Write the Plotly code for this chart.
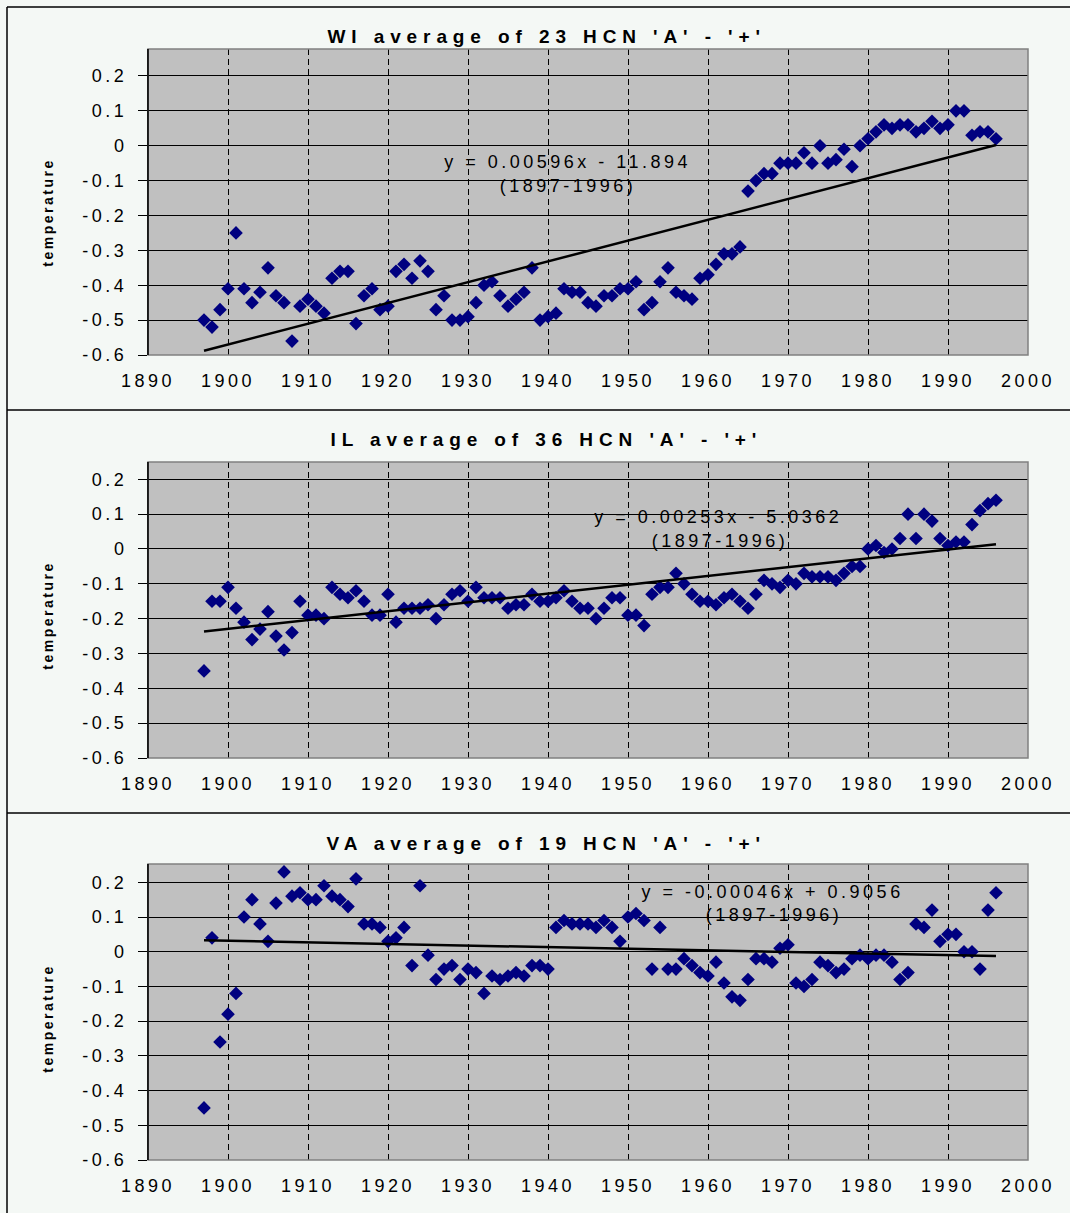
import json
import plotly.graph_objects as go

# ---- data -----------------------------------------------------------------
years = list(range(1897, 1997))

wi_temp = [-0.50, -0.52, -0.47, -0.41, -0.25, -0.41, -0.45, -0.42, -0.35, -0.43,
           -0.45, -0.56, -0.46, -0.44, -0.46, -0.48, -0.38, -0.36, -0.36, -0.51,
           -0.43, -0.41, -0.47, -0.46, -0.36, -0.34, -0.38, -0.33, -0.36, -0.47,
           -0.43, -0.50, -0.50, -0.49, -0.45, -0.40, -0.39, -0.43, -0.46, -0.44,
           -0.42, -0.35, -0.50, -0.49, -0.48, -0.41, -0.42, -0.42, -0.45, -0.46,
           -0.43, -0.43, -0.41, -0.41, -0.39, -0.47, -0.45, -0.39, -0.35, -0.42,
           -0.43, -0.44, -0.38, -0.37, -0.34, -0.31, -0.31, -0.29, -0.13, -0.10,
           -0.08, -0.08, -0.05, -0.05, -0.05, -0.02, -0.05, 0.00, -0.05, -0.04,
           -0.01, -0.06, 0.00, 0.02, 0.04, 0.06, 0.05, 0.06, 0.06, 0.04,
           0.05, 0.07, 0.05, 0.06, 0.10, 0.10, 0.03, 0.04, 0.04, 0.02]

il_temp = [-0.35, -0.15, -0.15, -0.11, -0.17, -0.21, -0.26, -0.23, -0.18, -0.25,
           -0.29, -0.24, -0.15, -0.19, -0.19, -0.20, -0.11, -0.13, -0.14, -0.12,
           -0.15, -0.19, -0.19, -0.13, -0.21, -0.17, -0.17, -0.17, -0.16, -0.20,
           -0.16, -0.13, -0.12, -0.15, -0.11, -0.14, -0.14, -0.14, -0.17, -0.16,
           -0.16, -0.13, -0.15, -0.15, -0.14, -0.12, -0.15, -0.17, -0.17, -0.20,
           -0.17, -0.14, -0.14, -0.19, -0.19, -0.22, -0.13, -0.11, -0.11, -0.07,
           -0.10, -0.13, -0.15, -0.15, -0.16, -0.14, -0.13, -0.15, -0.17, -0.13,
           -0.09, -0.10, -0.11, -0.09, -0.10, -0.07, -0.08, -0.08, -0.08, -0.09,
           -0.07, -0.05, -0.05, 0.00, 0.01, -0.01, 0.00, 0.03, 0.10, 0.03,
           0.10, 0.08, 0.03, 0.01, 0.02, 0.02, 0.07, 0.11, 0.13, 0.14]

va_temp = [-0.45, 0.04, -0.26, -0.18, -0.12, 0.10, 0.15, 0.08, 0.03, 0.14,
           0.23, 0.16, 0.17, 0.15, 0.15, 0.19, 0.16, 0.15, 0.13, 0.21,
           0.08, 0.08, 0.07, 0.03, 0.04, 0.07, -0.04, 0.19, -0.01, -0.08,
           -0.05, -0.04, -0.08, -0.05, -0.06, -0.12, -0.07, -0.08, -0.07, -0.06,
           -0.07, -0.04, -0.04, -0.05, 0.07, 0.09, 0.08, 0.08, 0.08, 0.07,
           0.09, 0.07, 0.03, 0.10, 0.11, 0.09, -0.05, 0.07, -0.05, -0.05,
           -0.02, -0.04, -0.06, -0.07, -0.03, -0.09, -0.13, -0.14, -0.08, -0.02,
           -0.02, -0.03, 0.01, 0.02, -0.09, -0.10, -0.08, -0.03, -0.04, -0.06,
           -0.05, -0.02, -0.01, -0.02, -0.01, -0.01, -0.03, -0.08, -0.06, 0.08,
           0.07, 0.12, 0.03, 0.05, 0.05, 0.00, 0.00, -0.05, 0.12, 0.17]

titles = ["WI average of 23 HCN 'A' - '+'",
          "IL average of 36 HCN 'A' - '+'",
          "VA average of 19 HCN 'A' - '+'"]

# least-squares trend lines (slope, intercept) as printed on each chart
trend_slopes = [0.00596, 0.00253, -0.00046]
trend_intercepts = [-11.894, -5.0362, 0.9056]
trend_labels = ["y = 0.00596x - 11.894",
                "y = 0.00253x - 5.0362",
                "y = -0.00046x + 0.9056"]
trend_period = "(1897-1996)"

x_ticks = list(range(1890, 2001, 10))
y_ticks = [-0.6, -0.5, -0.4, -0.3, -0.2, -0.1, 0.0, 0.1, 0.2]
y_tick_text = ["-0.6", "-0.5", "-0.4", "-0.3", "-0.2", "-0.1", "0", "0.1", "0.2"]

series = [wi_temp, il_temp, va_temp]

# ---- layout geometry (pixels) --------------------------------------------
W, H = 1070, 1213
FONT = "Liberation Sans, Arial, sans-serif"
PLOT_BG = "#C0C0C0"
PAGE_BG = "#F4F8F5"
MARKER = "#000080"

plot_left, plot_right = 148, 1028
# (top, bottom, top-of-range value) of every plot area
plot_boxes = [(49, 355, 0.2774), (462, 758, 0.2497), (864, 1160, 0.2527)]
title_y = [37, 440, 843]
ylabel_y = [212, 615, 1018]
eq_pos = [((567, 162), (568, 186)),
          ((718, 517), (720, 541)),
          ((772, 892), (774, 915))]
frame_x = 7
frame_lines_y = [7, 410, 813]


def px(x):
    return x / W


def py(y):
    return 1 - y / H


fig = go.Figure()
annotations = []
ann_spacing = []
shapes = []

for i, (vals, (top, bottom, ymax)) in enumerate(zip(series, plot_boxes)):
    n = "" if i == 0 else str(i + 1)
    xa, ya = "x" + n, "y" + n

    fig.add_trace(go.Scatter(
        x=years, y=vals, mode="markers", xaxis=xa, yaxis=ya,
        marker=dict(symbol="diamond", size=10.5, color=MARKER, line=dict(width=0)),
        showlegend=False, hoverinfo="x+y"))

    x0, x1 = years[0], years[-1]
    fig.add_trace(go.Scatter(
        x=[x0, x1],
        y=[trend_slopes[i] * x0 + trend_intercepts[i],
           trend_slopes[i] * x1 + trend_intercepts[i]],
        mode="lines", xaxis=xa, yaxis=ya,
        line=dict(color="black", width=2.5),
        showlegend=False, hoverinfo="skip"))

    fig.update_layout({
        "xaxis" + n: dict(
            domain=[px(plot_left), px(plot_right)], anchor=ya, automargin=False,
            range=[1890, 2000], tickvals=x_ticks, ticks="",
            showgrid=True, gridcolor="black", gridwidth=1, griddash="6px,4px",
            zeroline=False, showline=False,
            tickfont=dict(family=FONT, size=18, color="black"),
            ticklabelstandoff=13, fixedrange=True),
        "yaxis" + n: dict(
            domain=[py(bottom), py(top)], anchor=xa, automargin=False,
            range=[-0.6, ymax], tickvals=y_ticks, ticktext=y_tick_text,
            ticks="outside", ticklen=9, tickcolor="black", tickwidth=1,
            showgrid=True, gridcolor="black", gridwidth=1,
            zeroline=False, showline=True, linecolor="black", linewidth=1,
            tickfont=dict(family=FONT, size=18, color="black"),
            ticklabelstandoff=7, fixedrange=True),
    })

    # grey plot area with its grey frame
    shapes.append(dict(type="rect", xref="paper", yref="paper", layer="below",
                       x0=px(plot_left), x1=px(plot_right), y0=py(bottom), y1=py(top),
                       fillcolor=PLOT_BG, line=dict(width=0)))
    shapes.append(dict(type="rect", xref="paper", yref="paper", layer="above",
                       x0=px(plot_left), x1=px(plot_right), y0=py(bottom), y1=py(top),
                       fillcolor="rgba(0,0,0,0)", line=dict(color="#808080", width=1.5)))
    shapes.append(dict(type="line", xref="paper", yref="paper", layer="above",
                       x0=px(plot_left), x1=px(plot_left), y0=py(bottom), y1=py(top),
                       line=dict(color="black", width=1.5)))

    annotations.append(dict(text="<b>%s</b>" % titles[i], x=px(546), y=py(title_y[i]),
                            xref="paper", yref="paper", showarrow=False,
                            xanchor="center", yanchor="middle",
                            font=dict(family=FONT, size=19, color="black")))
    ann_spacing.append("5.9px")
    annotations.append(dict(text="<b>temperature</b>", x=px(48), y=py(ylabel_y[i]),
                            xref="paper", yref="paper", showarrow=False, textangle=-90,
                            xanchor="center", yanchor="middle",
                            font=dict(family=FONT, size=14, color="black")))
    ann_spacing.append("2.5px")
    (ex, ey), (qx, qy) = eq_pos[i]
    annotations.append(dict(text=trend_labels[i], x=px(ex), y=py(ey),
                            xref="paper", yref="paper", showarrow=False,
                            xanchor="center", yanchor="middle",
                            font=dict(family=FONT, size=18, color="black")))
    ann_spacing.append("3.5px")
    annotations.append(dict(text=trend_period, x=px(qx), y=py(qy),
                            xref="paper", yref="paper", showarrow=False,
                            xanchor="center", yanchor="middle",
                            font=dict(family=FONT, size=18, color="black")))
    ann_spacing.append("3.5px")

# outer frame and panel separators
shapes.append(dict(type="line", xref="paper", yref="paper",
                   x0=px(frame_x), x1=px(frame_x), y0=0, y1=py(frame_lines_y[0]),
                   line=dict(color="black", width=1.5)))
for yy in frame_lines_y:
    shapes.append(dict(type="line", xref="paper", yref="paper",
                       x0=px(frame_x), x1=1, y0=py(yy), y1=py(yy),
                       line=dict(color="black", width=1.5)))

fig.update_layout(
    width=W, height=H, margin=dict(l=0, r=0, t=0, b=0, autoexpand=False),
    paper_bgcolor=PAGE_BG, plot_bgcolor="rgba(0,0,0,0)",
    shapes=shapes, annotations=annotations, showlegend=False,
    font=dict(family=FONT, color="black"),
)

# wider character spacing for the chart text
post_script = """
var gd = document.getElementById('{plot_id}');
var annSpacing = %s;
function spaceText() {
  gd.querySelectorAll('g.xaxislayer-above text, g.yaxislayer-above text').forEach(function (t) {
    t.style.letterSpacing = '%s';
  });
  gd.querySelectorAll('g.annotation').forEach(function (g) {
    var i = +g.getAttribute('data-index');
    var t = g.querySelector('text.annotation-text');
    if (t && annSpacing[i]) { t.style.letterSpacing = annSpacing[i]; }
  });
}
spaceText();
""" % (json.dumps(ann_spacing), "3.5px")

fig.write_html("out.html", post_script=post_script, config={"displayModeBar": False})
